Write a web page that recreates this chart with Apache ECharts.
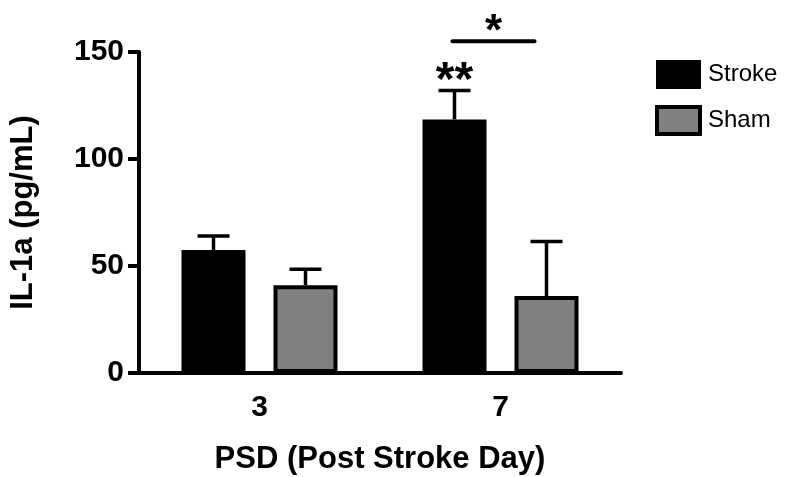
<!DOCTYPE html>
<html>
<head>
<meta charset="utf-8">
<script src="https://cdn.jsdelivr.net/npm/echarts@6/dist/echarts.min.js"></script>
<style>html,body{margin:0;padding:0;background:#fff}#c{width:788px;height:477px}</style>
</head>
<body>
<div id="c"></div>
<script>
const categories = ['3', '7'];
const strokeMean = [57.5, 118.5];
const strokeErr = [6.5, 13.5];
const shamMean = [41, 36];
const shamErr = [7.5, 25.5];
const yTicks = [0, 50, 100, 150];
const sigLineValue = [155];   // y level of the bracket between groups at day 7
const sigLabels = ['**', '*'];

const FONT = "'Liberation Sans', Arial, sans-serif";
const BAR_W = 64, BAR_GAP_PX = 28;
const OFFSET = (BAR_W + BAR_GAP_PX) / 2;

function errItem(side) {
  return function (params, api) {
    const cat = api.value(0), m = api.value(1), e = api.value(2);
    const base = api.coord([cat, m]);
    const top = api.coord([cat, m + e]);
    const x = base[0] + side * OFFSET;
    return {
      type: 'group',
      children: [
        { type: 'line', shape: { x1: x, y1: base[1], x2: x, y2: top[1] }, style: { stroke: '#000', lineWidth: 3.5 } },
        { type: 'line', shape: { x1: x - 16, y1: top[1], x2: x + 16, y2: top[1] }, style: { stroke: '#000', lineWidth: 3.5 } }
      ]
    };
  };
}

const chart = echarts.init(document.getElementById('c'), null, { renderer: 'canvas' });
chart.setOption({
  animation: false,
  backgroundColor: '#fff',
  textStyle: { fontFamily: FONT },
  grid: { left: 139, right: 167, top: 52, bottom: 104, containLabel: false, outerBoundsMode: 'none' },
  legend: {
    data: [
      { name: 'Stroke', icon: 'rect' },
      { name: 'Sham', icon: 'rect', itemStyle: { borderWidth: 4, borderColor: '#000' } }
    ],
    orient: 'vertical',
    left: 650, top: 55,
    itemWidth: 43, itemHeight: 27, itemGap: 16,
    textStyle: { fontSize: 24, color: '#000', fontFamily: FONT, padding: [0, 0, 0, 3] },
    selectedMode: false
  },
  xAxis: {
    type: 'category',
    data: categories,
    name: 'PSD (Post Stroke Day)',
    nameLocation: 'middle',
    nameGap: 71,
    nameTextStyle: { fontSize: 31, fontWeight: 'bold', color: '#000', fontFamily: FONT },
    axisLine: { lineStyle: { color: '#000', width: 4 } },
    axisTick: { alignWithLabel: true, length: 11, lineStyle: { color: '#000', width: 4 } },
    axisLabel: { fontSize: 30, fontWeight: 'bold', color: '#000', margin: 20, fontFamily: FONT }
  },
  yAxis: {
    type: 'value',
    min: 0, max: 150, interval: 50,
    name: 'IL-1a (pg/mL)',
    nameLocation: 'middle',
    nameGap: 100,
    nameTextStyle: { fontSize: 31, fontWeight: 'bold', color: '#000', fontFamily: FONT },
    splitLine: { show: false },
    axisLine: { show: true, lineStyle: { color: '#000', width: 4 } },
    axisTick: { show: true, length: 11, lineStyle: { color: '#000', width: 4 } },
    axisLabel: { fontSize: 30, fontWeight: 'bold', color: '#000', margin: 15, fontFamily: FONT,
      formatter: v => yTicks.includes(v) ? String(v) : '' }
  },
  series: [
    {
      name: 'Stroke', type: 'bar', data: strokeMean,
      barWidth: BAR_W, barGap: (BAR_GAP_PX / BAR_W * 100) + '%',
      itemStyle: { color: '#000', borderColor: '#000', borderWidth: 4 },
      z: 2
    },
    {
      name: 'Sham', type: 'bar', data: shamMean,
      barWidth: BAR_W,
      itemStyle: { color: '#808080', borderColor: '#000', borderWidth: 4 },
      z: 2
    },
    {
      type: 'custom', name: 'strokeErr', z: 1,
      data: categories.map((c, i) => [i, strokeMean[i], strokeErr[i]]),
      renderItem: errItem(-1), clip: false
    },
    {
      type: 'custom', name: 'shamErr', z: 1,
      data: categories.map((c, i) => [i, shamMean[i], shamErr[i]]),
      renderItem: errItem(1), clip: false
    },
    {
      type: 'custom', name: 'sig', z: 3, clip: false,
      data: [[1, strokeMean[1] + strokeErr[1], sigLineValue[0]]],
      renderItem: function (params, api) {
        const cat = api.value(0);
        const capPt = api.coord([cat, api.value(1)]);
        const linePt = api.coord([cat, api.value(2)]);
        const xs = capPt[0] - OFFSET;
        return {
          type: 'group',
          children: [
            { type: 'text', style: { x: xs, y: capPt[1] + 15, text: sigLabels[0], align: 'center', verticalAlign: 'bottom',
                font: 'bold 48px ' + FONT, fill: '#000' } },
            { type: 'line', shape: { x1: xs - 2, y1: linePt[1], x2: capPt[0] + 34, y2: linePt[1] },
              style: { stroke: '#000', lineWidth: 4, lineCap: 'round' } },
            { type: 'text', style: { x: (xs - 2 + capPt[0] + 34) / 2, y: linePt[1] + 14, text: sigLabels[1], align: 'center', verticalAlign: 'bottom',
                font: 'bold 44px ' + FONT, fill: '#000' } }
          ]
        };
      }
    }
  ]
});
</script>
</body>
</html>
